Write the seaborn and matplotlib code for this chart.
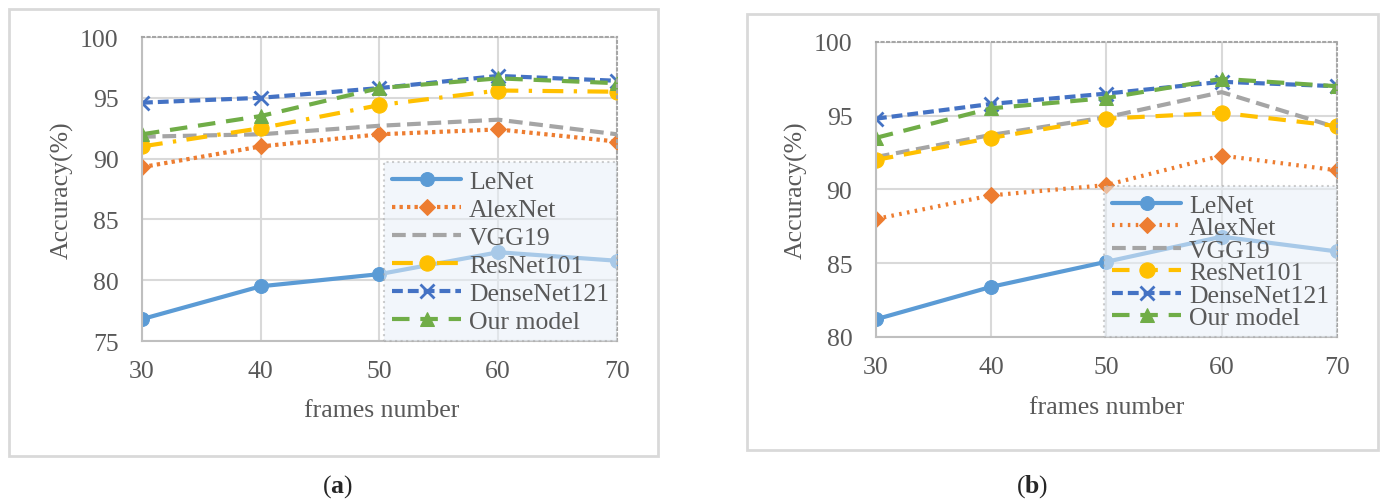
import matplotlib
matplotlib.use("Agg")
import matplotlib.pyplot as plt
from matplotlib.patches import Rectangle
import seaborn as sns

# data
frames = [30, 40, 50, 60, 70]
models = ["LeNet", "AlexNet", "VGG19", "ResNet101", "DenseNet121", "Our model"]

a_lenet = [76.8, 79.5, 80.5, 82.3, 81.6]
a_alexnet = [89.3, 91.0, 92.0, 92.4, 91.4]
a_vgg19 = [91.8, 92.0, 92.7, 93.2, 92.0]
a_resnet101 = [91.0, 92.5, 94.4, 95.6, 95.5]
a_densenet121 = [94.6, 95.0, 95.8, 96.8, 96.4]
a_ours = [92.0, 93.5, 95.8, 96.6, 96.2]

b_lenet = [81.2, 83.4, 85.1, 86.8, 85.8]
b_alexnet = [88.0, 89.6, 90.3, 92.3, 91.3]
b_vgg19 = [92.2, 93.7, 94.9, 96.6, 94.2]
b_resnet101 = [92.0, 93.5, 94.8, 95.2, 94.3]
b_densenet121 = [94.8, 95.8, 96.5, 97.3, 97.0]
b_ours = [93.5, 95.5, 96.2, 97.5, 97.0]

a_yticks = [75, 80, 85, 90, 95, 100]
b_yticks = [80, 85, 90, 95, 100]

sns.set_style("white")
plt.rcParams['font.family'] = ['Liberation Serif', 'DejaVu Serif']
plt.rcParams['mathtext.fontset'] = 'custom'
plt.rcParams['mathtext.bf'] = 'Liberation Serif:bold'
plt.rcParams['mathtext.rm'] = 'Liberation Serif'

colors = ["#5B9BD5", "#ED7D31", "#A5A5A5", "#FFC000", "#4472C4", "#70AD47"]
markers = ["o", "D", None, "o", "x", "^"]
msizes = [10, 8, 0, 11, 10, 10]
txt = "#595959"

fig = plt.figure(figsize=(13.84, 5.02), dpi=100)

# outer frames of the two sub figures
fig.patches.append(Rectangle((0.0065, 0.0896), 0.469, 0.8904, transform=fig.transFigure,
                             fill=False, edgecolor="#d9d9d9", lw=2))
fig.patches.append(Rectangle((0.5397, 0.1016), 0.4559, 0.8685, transform=fig.transFigure,
                             fill=False, edgecolor="#d9d9d9", lw=2))

ax1 = fig.add_axes([0.1026, 0.3187, 0.3432, 0.6056])
ax2 = fig.add_axes([0.6329, 0.3267, 0.3331, 0.5877])

panels = [
    (ax1, [a_lenet, a_alexnet, a_vgg19, a_resnet101, a_densenet121, a_ours],
     ["-", (0, (0.8, 1.0)), (0, (3.3, 1.6)), (0, (5, 2.5, 0.8, 2.5)), (0, (2.6, 1.2)), (0, (4.2, 2.6))],
     a_yticks, (-0.144, 0.5), (0.505, -0.19), 0.2),
    (ax2, [b_lenet, b_alexnet, b_vgg19, b_resnet101, b_densenet121, b_ours],
     ["-", (0, (0.6, 1.3)), (0, (3.3, 1.6)), (0, (4.2, 2.6)), (0, (2.6, 1.2)), (0, (4.2, 2.6))],
     b_yticks, (-0.147, 0.5), (0.501, -0.199), -0.02),
]

for ax, series, styles, yticks, ylab_pos, xlab_pos, lspace in panels:
    for name, vals, col, mk, ms, ls in zip(models, series, colors, markers, msizes, styles):
        kw = dict(marker=mk, markersize=ms, markeredgecolor=col,
                  markerfacecolor=col) if mk else {}
        if mk == "x":
            kw["markeredgewidth"] = 2
        sns.lineplot(x=frames, y=vals, ax=ax, color=col, linestyle=ls, lw=3,
                     label=name, legend=False, **kw)
    ax.set_xlim(30, 70)
    ax.set_ylim(yticks[0], yticks[-1])
    ax.set_xticks(frames)
    ax.set_yticks(yticks)
    ax.grid(True, color="#d9d9d9", lw=1.5)
    ax.set_axisbelow(True)
    for s in ["left", "bottom"]:
        ax.spines[s].set_color("#bfbfbf")
        ax.spines[s].set_linewidth(1.5)
    for s in ["top", "right"]:
        ax.spines[s].set_color("#a6a6a6")
        ax.spines[s].set_linewidth(1.5)
        ax.spines[s].set_linestyle(":")
    ax.tick_params(axis="x", length=0, pad=14, labelsize=18.5, labelcolor=txt)
    ax.tick_params(axis="y", length=0, pad=17, labelsize=18.5, labelcolor=txt)
    ax.set_xlabel("frames number", fontsize=18.5, color=txt)
    ax.set_ylabel("Accuracy(%)", fontsize=18.5, color=txt)
    ax.yaxis.set_label_coords(*ylab_pos)
    ax.xaxis.set_label_coords(*xlab_pos)
    leg = ax.legend(loc="lower right", bbox_to_anchor=(1, 0), borderaxespad=0,
                    fontsize=18.5, labelspacing=lspace, handlelength=2.7, handletextpad=0.3,
                    borderpad=0.3, fancybox=False, framealpha=0.55, facecolor="#e8f0f8",
                    edgecolor="#a6a6a6", numpoints=1)
    leg.get_frame().set_linestyle(":")
    leg.get_frame().set_linewidth(1.5)
    for t in leg.get_texts():
        t.set_color(txt)

fig.text(0.244, 0.030, r"($\mathbf{a}$)", ha="center", va="center", fontsize=18.5)
fig.text(0.746, 0.030, r"($\mathbf{b}$)", ha="center", va="center", fontsize=18.5)

plt.savefig("out.png", dpi=100)
